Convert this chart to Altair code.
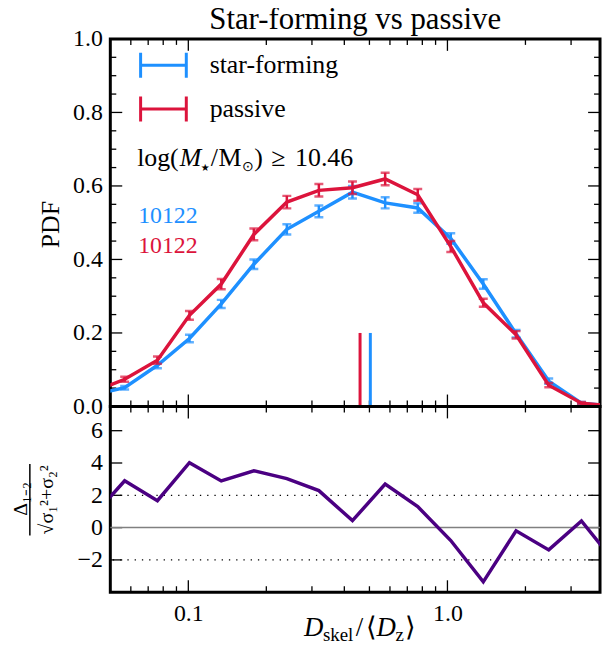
import altair as alt
import pandas as pd

# ---------------- data ----------------
x_bins = [0.0425, 0.0568, 0.076, 0.101, 0.134, 0.179, 0.240, 0.319, 0.430,
          0.575, 0.768, 1.03, 1.375, 1.84, 2.46, 3.29, 4.48]
pdf_sf = [0.031, 0.051, 0.112, 0.185, 0.279, 0.387, 0.482, 0.531, 0.583,
          0.554, 0.540, 0.457, 0.333, 0.198, 0.069, 0.009, 0.0]
err_sf = [0.004, 0.005, 0.008, 0.010, 0.011, 0.013, 0.014, 0.016, 0.017,
          0.015, 0.013, 0.014, 0.013, 0.010, 0.007, 0.003, 0.0]
pdf_pas = [0.038, 0.074, 0.126, 0.248, 0.333, 0.468, 0.556, 0.588, 0.595,
           0.619, 0.576, 0.435, 0.282, 0.195, 0.058, 0.009, 0.0]
err_pas = [0.005, 0.007, 0.010, 0.012, 0.014, 0.016, 0.017, 0.017, 0.017,
           0.017, 0.016, 0.015, 0.011, 0.010, 0.006, 0.003, 0.0]
signif = [0.63, 2.9, 1.67, 4.02, 2.89, 3.52, 3.03, 2.29, 0.43,
          2.7, 1.3, -0.80, -3.36, -0.2, -1.38, 0.41, -2.25]
series_names = ["star-forming", "passive"]
median_x = [0.504, 0.46]
median_top = 0.2
n_gal = ["10122", "10122"]

x_major = [0.1, 1.0]
x_minor = [0.06, 0.07, 0.08, 0.09, 0.2, 0.3, 0.4, 0.5, 0.6, 0.7, 0.8, 0.9, 2.0, 3.0]
y1_major = [0.0, 0.2, 0.4, 0.6, 0.8, 1.0]
y1_minor = [0.05, 0.1, 0.15, 0.25, 0.3, 0.35, 0.45, 0.5, 0.55, 0.65, 0.7, 0.75,
            0.85, 0.9, 0.95]
y2_major = [-2, 0, 2, 4, 6]
sig_levels = [-2, 2]

BLUE = "#1E90FF"
RED = "#DC143C"
PURPLE = "#4B0082"
FONT = "Liberation Serif"

W, H1, H2 = 493, 370, 187
MAJ, MIN = 12, 6

xscale = alt.Scale(type="log", domain=[0.05, 3.88], nice=False)
y1scale = alt.Scale(domain=[0.0, 1.0], nice=False, zero=False)
y2scale = alt.Scale(domain=[-4.0, 7.5], nice=False, zero=False)

df = pd.DataFrame({
    "x": x_bins * 2,
    "pdf": pdf_sf + pdf_pas,
    "lo": [v - e for v, e in zip(pdf_sf, err_sf)] + [v - e for v, e in zip(pdf_pas, err_pas)],
    "hi": [v + e for v, e in zip(pdf_sf, err_sf)] + [v + e for v, e in zip(pdf_pas, err_pas)],
    "series": [series_names[0]] * len(x_bins) + [series_names[1]] * len(x_bins),
})
dsig = pd.DataFrame({"x": x_bins, "s": signif})

color_scale = alt.Scale(domain=series_names, range=[BLUE, RED])
legend = alt.Legend(
    title=None, orient="none", legendX=29, legendY=2,
    symbolType="M-1,-0.55L-1,0.55M-1,0L1,0M1,-0.55L1,0.55",
    symbolSize=2116, symbolStrokeWidth=3, symbolFillColor="transparent",
    labelFont=FONT, labelFontSize=26, labelColor="black", labelOffset=22,
    rowPadding=-4, padding=0, labelLimit=300,
)

y1ax = alt.Axis(values=y1_major, format=".1f", title=None, labelFlush=False,
                labelPadding=8, tickSize=0)
y2ax = alt.Axis(values=y2_major, title=None, labelFlush=False, labelPadding=8,
                tickSize=0,
                labelExpr="datum.value < 0 ? '\u2212' + format(-datum.value, 'd') : format(datum.value, 'd')")
x2ax = alt.Axis(values=x_major, format=".1f", title=None, labelFlush=False,
                labelPadding=9, tickSize=0)


def x_ticks(vals, length, height, xax):
    d = pd.DataFrame({"v": vals})
    base = alt.Chart(d).encode(x=alt.X("v:Q", scale=xscale, axis=xax))
    top = base.mark_rule(color="black", strokeWidth=1.3).encode(
        y=alt.value(0), y2=alt.value(length))
    bot = base.mark_rule(color="black", strokeWidth=1.3).encode(
        y=alt.value(height), y2=alt.value(height - length))
    return [top, bot]


def y_ticks(vals, length, yscale, yax):
    d = pd.DataFrame({"v": vals})
    base = alt.Chart(d).encode(y=alt.Y("v:Q", scale=yscale, axis=yax))
    left = base.mark_rule(color="black", strokeWidth=1.3).encode(
        x=alt.value(0), x2=alt.value(length))
    right = base.mark_rule(color="black", strokeWidth=1.3).encode(
        x=alt.value(W), x2=alt.value(W - length))
    return [left, right]


def text(t, x, y, size, color="black", angle=0, align="left", baseline="alphabetic",
         style="normal", font=FONT):
    return alt.Chart(pd.DataFrame({"t": [t]})).mark_text(
        font=font, fontSize=size, color=color, angle=angle, align=align,
        baseline=baseline, fontStyle=style,
    ).encode(text="t:N", x=alt.value(x), y=alt.value(y))


# ---------------- top panel ----------------
top_layers = []
top_layers += x_ticks(x_major, MAJ, H1, None)
top_layers += x_ticks(x_minor, MIN, H1, None)
top_layers += y_ticks(y1_major, MAJ, y1scale, y1ax)
top_layers += y_ticks(y1_minor, MIN, y1scale, y1ax)

for name, col in zip(series_names, [BLUE, RED]):
    sub = alt.Chart(df).transform_filter(alt.datum.series == name)
    line = sub.mark_line(strokeWidth=3.5, clip=True).encode(
        x=alt.X("x:Q", scale=xscale, axis=None),
        y=alt.Y("pdf:Q", scale=y1scale, axis=y1ax),
        color=alt.Color("series:N", scale=color_scale, legend=legend),
    )
    bar = sub.mark_rule(strokeWidth=2.5, color=col, clip=True).encode(
        x=alt.X("x:Q", scale=xscale, axis=None),
        y=alt.Y("lo:Q", scale=y1scale, axis=y1ax), y2="hi:Q")
    cap_lo = sub.mark_tick(orient="horizontal", size=9, thickness=2.5, color=col, clip=True).encode(
        x=alt.X("x:Q", scale=xscale, axis=None),
        y=alt.Y("lo:Q", scale=y1scale, axis=y1ax))
    cap_hi = sub.mark_tick(orient="horizontal", size=9, thickness=2.5, color=col, clip=True).encode(
        x=alt.X("x:Q", scale=xscale, axis=None),
        y=alt.Y("hi:Q", scale=y1scale, axis=y1ax))
    top_layers += [line, bar, cap_lo, cap_hi]

dmed = pd.DataFrame({"x": median_x, "lo": [0.0, 0.0], "hi": [median_top, median_top]})
for i, col in enumerate([BLUE, RED]):
    top_layers.append(
        alt.Chart(dmed.iloc[[i]]).mark_rule(strokeWidth=3, color=col).encode(
            x=alt.X("x:Q", scale=xscale, axis=None),
            y=alt.Y("lo:Q", scale=y1scale, axis=y1ax), y2="hi:Q"))

top_layers += [
    text("Star-forming vs passive", W / 2, -10, 31, align="center"),
    text("PDF", -52, 187, 26, angle=270, align="center"),
    text("log(", 27, 128, 26),
    text("M", 70, 128, 26, style="italic"),
    text("\u2605", 91, 133, 10, font="DejaVu Sans"),
    text("/", 101, 128, 26),
    text("M", 109, 128, 26),
    text("\u2299", 133, 133, 14),
    text(")", 145, 128, 26),
    text("\u2265", 162, 128, 26),
    text("10.46", 186, 128, 26),
    text(n_gal[0], 28, 185, 24, color=BLUE),
    text(n_gal[1], 28, 215, 24, color=RED),
]

top = alt.layer(*top_layers).properties(width=W, height=H1)

# ---------------- bottom panel ----------------
bot_layers = []
bot_layers += x_ticks(x_major, MAJ, H2, x2ax)
bot_layers += x_ticks(x_minor, MIN, H2, x2ax)
bot_layers += y_ticks(y2_major, MAJ, y2scale, y2ax)

bot_layers.append(
    alt.Chart(pd.DataFrame({"y": [0]})).mark_rule(color="#808080", strokeWidth=1.5).encode(
        y=alt.Y("y:Q", scale=y2scale, axis=y2ax)))
bot_layers.append(
    alt.Chart(pd.DataFrame({"y": sig_levels})).mark_rule(color="black", strokeWidth=1.3,
                                                         strokeDash=[1.3, 6]).encode(
        y=alt.Y("y:Q", scale=y2scale, axis=y2ax)))
bot_layers.append(
    alt.Chart(dsig).mark_line(color=PURPLE, strokeWidth=3.5, clip=True).encode(
        x=alt.X("x:Q", scale=xscale, axis=x2ax),
        y=alt.Y("s:Q", scale=y2scale, axis=y2ax)))

# y label: Delta_{1-2} / sqrt(sigma1^2 + sigma2^2)
bot_layers += [
    text("\u0394\u2081\u208b\u2082", -84, 93, 20, angle=270, align="center"),
    alt.Chart(pd.DataFrame({"a": [0]})).mark_rule(color="black", strokeWidth=1.5).encode(
        x=alt.value(-81), y=alt.value(58), y2=alt.value(130)),
    text("\u221a\u03c3\u2081\u00b2+\u03c3\u2082\u00b2", -58, 94, 20, angle=270, align="center"),
]
# x label: D_skel / <D_z>
XT = 231
bot_layers += [
    text("D", 195, XT, 27, style="italic"),
    text("skel", 214, XT + 5, 19),
    text("/", 247, XT, 27),
    text("\u27e8", 257, XT, 27),
    text("D", 268, XT, 27, style="italic"),
    text("z", 287, XT + 5, 19),
    text("\u27e9", 297, XT, 27),
]

bottom = alt.layer(*bot_layers).properties(width=W, height=H2)

chart = alt.vconcat(top, bottom, spacing=0, bounds="flush").resolve_scale(
    color="independent").resolve_legend(color="independent").properties(
    padding={"left": 1, "top": -8, "right": 0, "bottom": -3}
).configure_view(stroke="black", strokeWidth=3).configure_axis(
    grid=False, domain=False, ticks=False, labelFont=FONT, labelFontSize=24,
    labelColor="black"
)

chart.save("out.html", embed_options={"renderer": "svg", "actions": False})
